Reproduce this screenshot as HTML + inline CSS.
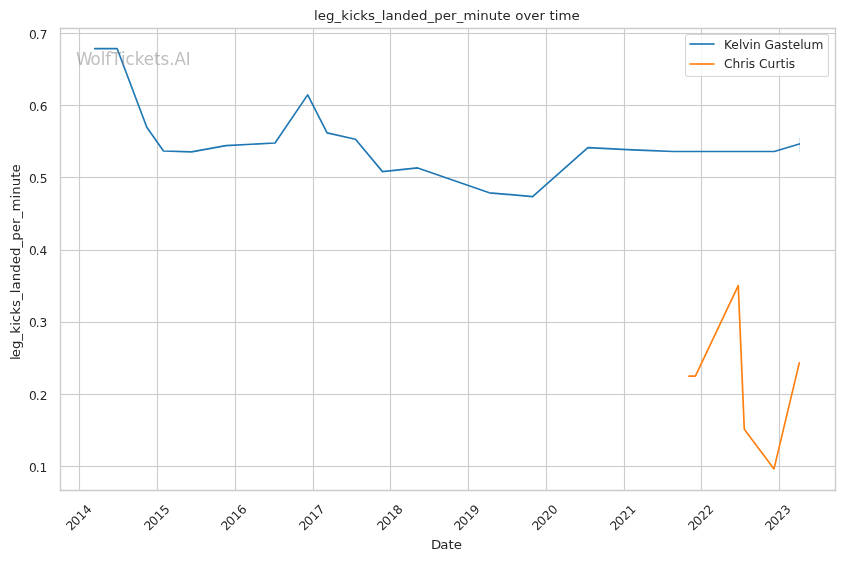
<!DOCTYPE html>
<html lang="en">
<head>
<meta charset="utf-8">
<title>leg_kicks_landed_per_minute over time</title>
<style>
html,body{margin:0;padding:0;background:#fff;}
body{width:844px;height:561px;overflow:hidden;}
svg{display:block;}
text{font-family:"DejaVu Sans","Liberation Sans",sans-serif;fill:#262626;}
.t{font-size:12.2222px;}
.l{font-size:12.9px;}
.w{font-size:17.6px;fill:#808080;fill-opacity:0.5;}
.g{stroke:#cccccc;stroke-width:1.111;fill:none;}
.s{stroke:#cccccc;stroke-width:1.389;fill:none;stroke-linecap:square;}
.d{fill:none;stroke-width:1.667;stroke-linecap:round;stroke-linejoin:round;}
</style>
</head>
<body>
<svg width="844" height="561" viewBox="0 0 844 561">
<rect x="0" y="0" width="844" height="561" fill="#ffffff"/>
<!-- grid -->
<g class="g">
<line x1="79.5" y1="28.5" x2="79.5" y2="490.5"/>
<line x1="157.5" y1="28.5" x2="157.5" y2="490.5"/>
<line x1="235.5" y1="28.5" x2="235.5" y2="490.5"/>
<line x1="313.5" y1="28.5" x2="313.5" y2="490.5"/>
<line x1="390.5" y1="28.5" x2="390.5" y2="490.5"/>
<line x1="468.5" y1="28.5" x2="468.5" y2="490.5"/>
<line x1="546.5" y1="28.5" x2="546.5" y2="490.5"/>
<line x1="624.5" y1="28.5" x2="624.5" y2="490.5"/>
<line x1="701.5" y1="28.5" x2="701.5" y2="490.5"/>
<line x1="779.5" y1="28.5" x2="779.5" y2="490.5"/>
<line x1="60.5" y1="33.5" x2="835.5" y2="33.5" stroke-width="1"/><line x1="60.5" y1="33.5" x2="835.5" y2="33.5" stroke-width="3" stroke-opacity="0.055"/>
<line x1="60.5" y1="105.5" x2="835.5" y2="105.5" stroke-width="1"/><line x1="60.5" y1="105.5" x2="835.5" y2="105.5" stroke-width="3" stroke-opacity="0.055"/>
<line x1="60.5" y1="177.5" x2="835.5" y2="177.5" stroke-width="1"/><line x1="60.5" y1="177.5" x2="835.5" y2="177.5" stroke-width="3" stroke-opacity="0.055"/>
<line x1="60.5" y1="250.5" x2="835.5" y2="250.5" stroke-width="1"/><line x1="60.5" y1="250.5" x2="835.5" y2="250.5" stroke-width="3" stroke-opacity="0.055"/>
<line x1="60.5" y1="322.5" x2="835.5" y2="322.5" stroke-width="1"/><line x1="60.5" y1="322.5" x2="835.5" y2="322.5" stroke-width="3" stroke-opacity="0.055"/>
<line x1="60.5" y1="394.5" x2="835.5" y2="394.5" stroke-width="1"/><line x1="60.5" y1="394.5" x2="835.5" y2="394.5" stroke-width="3" stroke-opacity="0.055"/>
<line x1="60.5" y1="466.5" x2="835.5" y2="466.5" stroke-width="1"/><line x1="60.5" y1="466.5" x2="835.5" y2="466.5" stroke-width="3" stroke-opacity="0.055"/>
</g>
<!-- x tick labels -->
<text class="t" transform="translate(70.60 531.90) rotate(-45)" x="0.75 7.75 15.50 23.25" y="0">2014</text>
<text class="t" transform="translate(148.60 531.90) rotate(-45)" x="0.75 7.75 15.50 23.25" y="0">2015</text>
<text class="t" transform="translate(225.60 531.90) rotate(-45)" x="0.75 7.75 15.50 23.25" y="0">2016</text>
<text class="t" transform="translate(303.60 531.90) rotate(-45)" x="0.75 7.75 15.50 23.25" y="0">2017</text>
<text class="t" transform="translate(381.60 531.90) rotate(-45)" x="0.75 7.75 15.50 23.25" y="0">2018</text>
<text class="t" transform="translate(458.60 531.90) rotate(-45)" x="0.75 7.75 15.50 23.25" y="0">2019</text>
<text class="t" transform="translate(536.60 531.90) rotate(-45)" x="0.75 7.75 15.50 23.25" y="0">2020</text>
<text class="t" transform="translate(614.60 531.90) rotate(-45)" x="0.75 7.75 15.50 23.25" y="0">2021</text>
<text class="t" transform="translate(692.60 531.90) rotate(-45)" x="0.75 7.75 15.50 23.25" y="0">2022</text>
<text class="t" transform="translate(769.60 531.90) rotate(-45)" x="0.75 7.75 15.50 23.25" y="0">2023</text>
<!-- y tick labels -->
<text class="t" transform="translate(28.95 39.10)" x="0.00 6.88 10.70" y="0">0.7</text>
<text class="t" transform="translate(28.95 111.10)" x="0.00 6.88 10.70" y="0">0.6</text>
<text class="t" transform="translate(28.95 183.10)" x="0.00 6.88 10.70" y="0">0.5</text>
<text class="t" transform="translate(28.95 255.10)" x="0.00 6.88 10.45" y="0">0.4</text>
<text class="t" transform="translate(28.95 327.10)" x="0.00 6.88 10.45" y="0">0.3</text>
<text class="t" transform="translate(28.95 400.10)" x="0.00 6.88 10.70" y="0">0.2</text>
<text class="t" transform="translate(28.95 472.10)" x="0.00 6.88 10.45" y="0">0.1</text>
<!-- axis labels and title -->
<text class="l" transform="translate(430.40 549.49) scale(1.0336 1)" x="0.48 9.43 17.42 22.62" y="0">Date</text>
<text class="l" transform="translate(20.30 360.90) rotate(-90) scale(1.0336 1)" x="0.97 3.63 11.61 19.83 26.36 33.98 37.37 44.75 52.12 59.02 65.55 69.18 77.16 85.38 93.61 101.59 109.81 116.34 124.57 132.55 137.99 144.52 157.22 160.85 169.07 177.29 182.25" y="0">leg_kicks_landed_per_minute</text>
<text class="l" transform="translate(314.10 19.85) scale(1.0336 1)" x="0.00 3.63 11.61 19.83 26.36 33.98 37.61 44.75 52.12 59.02 65.55 69.18 77.16 85.38 93.61 101.59 109.81 116.34 124.57 132.55 137.99 144.52 157.22 160.85 169.07 177.29 182.25 190.48 194.59 202.57 210.19 218.17 223.61 227.73 232.93 236.55 249.01" y="0">leg_kicks_landed_per_minute over time</text>
<!-- confidence band stub + data lines -->
<line x1="799.5" y1="137.5" x2="799.5" y2="152.5" stroke="#1f77b4" stroke-opacity="0.2" stroke-width="1.111"/>
<polyline class="d" stroke="#1f77b4" points="94.75,48.7 117.2,48.7 146.8,127.3 163.5,151 191.5,151.85 225.9,145.65 275,143 307.7,94.9 327.1,132.85 355.5,139.2 382.5,171.6 417.7,167.95 489.3,192.8 532.6,196.6 587.9,147.55 632.5,149.9 645.4,150.3 673.3,151.5 774.3,151.5 799.3,143.95"/>
<polyline class="d" stroke="#ff7f0e" points="688.9,376.15 695.4,376.15 738.25,285.6 744.3,429.3 774,468.9 799.3,362.9"/>
<!-- spines -->
<g class="s">
<line x1="60.5" y1="490.5" x2="60.5" y2="28.5"/>
<line x1="835.5" y1="490.5" x2="835.5" y2="28.5"/>
<line x1="60.5" y1="490.5" x2="835.5" y2="490.5"/>
<line x1="60.5" y1="28.5" x2="835.5" y2="28.5"/>
</g>
<!-- legend -->
<rect x="685.5" y="34.5" width="143" height="42" rx="2.44" ry="2.44" fill="#ffffff" fill-opacity="0.8" stroke="#cccccc" stroke-opacity="0.8" stroke-width="1.111"/>
<rect x="689.42" y="43" width="25.16" height="2" fill="#1f77b4" fill-opacity="0.833"/>
<rect x="689.42" y="63" width="25.16" height="2" fill="#ff7f0e" fill-opacity="0.833"/>
<text class="t" transform="translate(724.00 49.05)" x="0.00 7.25 14.88 18.25 25.50 28.88 36.62 40.50 49.88 57.38 63.88 68.75 76.25 79.62 87.38" y="0">Kelvin Gastelum</text>
<text class="t" transform="translate(724.00 67.80)" x="0.00 8.50 16.25 21.38 24.75 31.25 35.12 43.62 51.38 56.50 61.38 64.75" y="0">Chris Curtis</text>
<!-- watermark -->
<text class="w" transform="translate(75.10 65.10) scale(0.9470 1)" x="1.06 16.37 27.06 31.94 38.15 48.44 53.33 62.96 72.60 83.42 90.29 99.53 105.07 116.82" y="0">WolfTickets.AI</text>
</svg>
</body>
</html>
